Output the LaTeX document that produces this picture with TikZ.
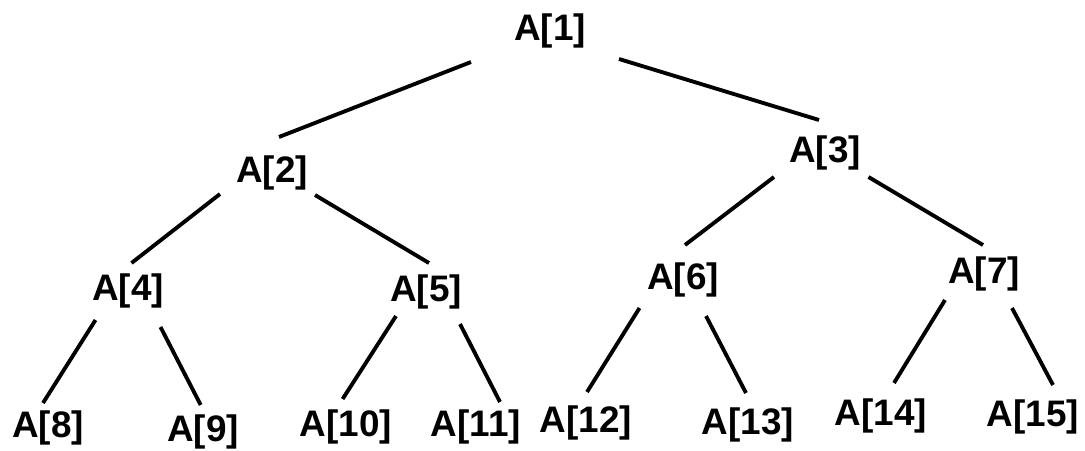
\documentclass[tikz,border=0pt]{standalone}
\usepackage{fontspec}
\setmainfont{Liberation Sans}
\usetikzlibrary{calc}
\tikzstyle{elem}=[font=\fontsize{21}{21}\selectfont\bfseries, inner sep=0pt]
\tikzstyle{branch}=[draw=black, line width=2.2pt]

\begin{document}
\begin{tikzpicture}[x=0.02cm, y=-0.02cm]
				\useasboundingbox (0,0) rectangle (1085,450);

				\node[elem] (n1) at (550,31) {A[1]};
				\node[elem] (n2) at (272,173) {A[2]};
				\node[elem] (n3) at (825,153) {A[3]};
				\node[elem] (n4) at (128,291) {A[4]};
				\node[elem] (n5) at (426,292) {A[5]};
				\node[elem] (n6) at (683,280) {A[6]};
				\node[elem] (n7) at (984,274) {A[7]};
				\node[elem] (n8) at (48,428) {A[8]};
				\node[elem] (n9) at (203,432) {A[9]};
				\node[elem] (n10) at (346,427) {A[10]};
				\node[elem] (n11) at (476,427) {A[11]};
				\node[elem] (n12) at (586,423) {A[12]};
				\node[elem] (n13) at (748,425) {A[13]};
				\node[elem] (n14) at (881,416) {A[14]};
				\node[elem] (n15) at (1033,417) {A[15]};

				% parent/child/offset at parent/offset at child
				\foreach \p/\c/\px/\py/\cx/\cy in {
					1/2/-79/31/7/-36, 1/3/69/28/-6/-33,
					2/4/-52/21/3.5/-28, 2/5/43/22/3/-29,
					3/6/-51/24/2/-35, 3/7/43.5/24/-1/-29,
					4/8/-32.5/29/-5/-25, 4/9/32.5/36/-2.3/-27,
					5/10/-30/24/-3.4/-28, 5/11/34/32/24/-25,
					6/12/-43.5/28/1/-31, 6/13/23/36/-2/-32,
					7/14/-39/26/13/-33, 7/15/28/34/20/-32}
					\draw[branch] ($(n\p)+(\px,\py)$) -- ($(n\c)+(\cx,\cy)$);
			\end{tikzpicture}
\end{document}
